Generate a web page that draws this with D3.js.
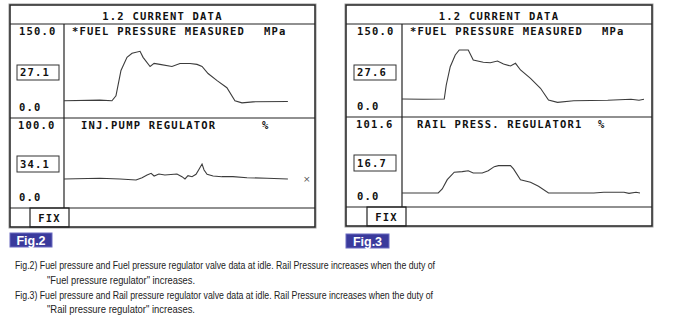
<!DOCTYPE html>
<html>
<head>
<meta charset="utf-8">
<script src="https://cdn.jsdelivr.net/npm/d3@7"></script>
<style>
  html, body { margin: 0; padding: 0; background: #fff; }
  svg { display: block; }
  .mono { font-family: "DejaVu Sans Mono", "Liberation Mono", monospace; font-weight: bold; font-size: 10.5px; letter-spacing: 1.2px; fill: #111; }
  .cap { font-family: "Liberation Sans", Arial, sans-serif; font-size: 11.5px; fill: #222; }
</style>
</head>
<body>
<svg id="chart" width="699" height="322"></svg>
<script>
// ---------------- DATA ----------------
// time axis is in sample units (0..100 across the plot window)
const fig2PressureTime  = [0, 14.3, 19.1, 20.7, 22.7, 25.1, 27.1, 30.3, 31.5, 34.3, 35.9, 38.2, 43.0, 46.2, 50.2, 53.0, 55.0, 57.4, 61.0, 64.9, 68.1, 70.9, 75.3, 89.2];
const fig2PressureValue = [26.7, 27.8, 26.7, 35, 76.7, 98.3, 105, 108.3, 98.3, 83.3, 88.3, 86.7, 83.3, 88.3, 88.3, 86.7, 83.3, 71.7, 60, 48.3, 26.7, 23.3, 25, 25.5];

const fig2RegTime  = [0, 14.3, 22.3, 28.7, 31.1, 33.1, 34.7, 35.9, 37.8, 40.2, 45.0, 47.0, 48.2, 49.4, 51.0, 52.6, 53.8, 55.0, 55.8, 57.0, 59.4, 62.9, 67.3, 72.9, 80.9, 89.2];
const fig2RegValue = [31.4, 32.2, 31.4, 30.2, 32.9, 36.0, 38.0, 34.9, 37.2, 36.0, 37.2, 34.1, 31.4, 35.2, 34.1, 36.9, 42.7, 48.8, 41.9, 36.9, 34.9, 34.1, 34.1, 32.9, 32.2, 31.4];

const fig3PressureTime  = [0, 8.4, 16.9, 17.7, 19.3, 21.3, 22.9, 26.5, 28.5, 32.5, 35.3, 38.2, 40.6, 43.4, 45.4, 47.4, 51.4, 55.4, 58.6, 62.2, 68.7, 82.3, 91.6, 94.8, 96.8];
const fig3PressureValue = [28.3, 27.8, 28.3, 51.7, 82.2, 101.7, 110, 110, 93.3, 89.5, 88.8, 91.7, 86.7, 83.3, 87.8, 76.7, 62.8, 46.2, 26.7, 22.8, 25.5, 26.2, 27.8, 26.2, 27.8];

const fig3RegTime  = [0, 14.5, 16.1, 18.1, 20.9, 24.1, 26.5, 28.5, 32.1, 34.5, 36.9, 38.6, 43.4, 44.6, 47.4, 51.4, 54.6, 58.6, 68.7, 76.7, 80.7, 88.8, 90.8, 93.6, 95.2];
const fig3RegValue = [14.2, 14.2, 18.9, 29.9, 38.7, 39.4, 40.5, 37.8, 37.8, 40.5, 45.3, 46.5, 46.5, 42.6, 29.9, 26.8, 22.1, 14.2, 14.2, 14.2, 15.0, 15.0, 13.8, 15.0, 14.2];

const screenTitle = "1.2 CURRENT DATA";
const fig2Labels = { p1Name: "*FUEL PRESSURE MEASURED", p1Unit: "MPa", p1Max: "150.0", p1Min: "0.0", p1Cur: "27.1",
                     p2Name: "INJ.PUMP REGULATOR", p2Unit: "%", p2Max: "100.0", p2Min: "0.0", p2Cur: "34.1", tag: "Fig.2" };
const fig3Labels = { p1Name: "*FUEL PRESSURE MEASURED", p1Unit: "MPa", p1Max: "150.0", p1Min: "0.0", p1Cur: "27.6",
                     p2Name: "RAIL PRESS. REGULATOR1", p2Unit: "%", p2Max: "101.6", p2Min: "0.0", p2Cur: "16.7", tag: "Fig.3" };
const fig2Max1 = 150, fig2Max2 = 100, fig3Max1 = 150, fig3Max2 = 101.6;

const captionLines = [
  "Fig.2) Fuel pressure and Fuel pressure regulator valve data at idle. Rail Pressure increases when the duty of",
  "\"Fuel pressure regulator\" increases.",
  "Fig.3) Fuel pressure and Rail pressure regulator valve data at idle. Rail Pressure increases when the duty of",
  "\"Rail pressure regulator\" increases."
];

// ---------------- DRAW ----------------
const svg = d3.select("#chart");
svg.append("rect").attr("width", 699).attr("height", 322).attr("fill", "#fff");

function drawFigure(L, lab, s1, s2, max1, max2) {
  const g = svg.append("g");
  const line = (x, y) => d3.line().x(d => x(d[0])).y(d => y(d[1]));

  const sep = [
    [L.left, L.titleB, L.right, L.titleB],
    [L.left, L.p1B, L.right, L.p1B],
    [L.left, L.p2B, L.right, L.p2B],
    [L.div, L.titleB, L.div, L.p2B]
  ];
  g.selectAll("line.sep").data(sep).enter().append("line")
    .attr("x1", d => d[0]).attr("y1", d => d[1]).attr("x2", d => d[2]).attr("y2", d => d[3])
    .attr("stroke", "#222").attr("stroke-width", 1.2);

  g.append("rect").attr("x", L.left - 1).attr("y", L.top - 1).attr("width", L.right - L.left + 2).attr("height", L.bottom - L.top + 2)
    .attr("fill", "none").attr("stroke", "#9a9a9a").attr("stroke-width", 1);
  g.append("rect").attr("x", L.left).attr("y", L.top).attr("width", L.right - L.left).attr("height", L.bottom - L.top)
    .attr("fill", "none").attr("stroke", "#222").attr("stroke-width", 1.5);

  g.append("text").attr("class", "mono").attr("x", (L.left + L.right) / 2).attr("y", L.top + 14.5)
    .attr("text-anchor", "middle").text(screenTitle);

  const x = d3.scaleLinear().domain([0, 100]).range([L.div, L.right]);
  const y1 = d3.scaleLinear().domain([0, max1]).range([L.p1B - 1, L.titleB + 2]);
  const y2 = d3.scaleLinear().domain([0, max2]).range([L.p2B - 2, L.p1B + 2]);

  g.append("text").attr("class", "mono").attr("x", L.lblX).attr("y", L.titleB + 11).text(lab.p1Max);
  g.append("text").attr("class", "mono").attr("x", L.lblX).attr("y", L.p1B - 7.5).text(lab.p1Min);
  g.append("text").attr("class", "mono").attr("x", L.div + 8).attr("y", L.titleB + 11).text(lab.p1Name);
  g.append("text").attr("class", "mono").attr("x", L.div + 200).attr("y", L.titleB + 11).text(lab.p1Unit);
  g.append("rect").attr("x", L.boxX).attr("y", L.titleB + 41).attr("width", 42).attr("height", 15)
    .attr("fill", "#fff").attr("stroke", "#333").attr("stroke-width", 1);
  g.append("text").attr("class", "mono").attr("x", L.boxX + 3).attr("y", L.titleB + 52).text(lab.p1Cur);

  g.append("text").attr("class", "mono").attr("x", L.lblX - 1).attr("y", L.p1B + 11).text(lab.p2Max);
  g.append("text").attr("class", "mono").attr("x", L.lblX).attr("y", L.p2B - 7.5).text(lab.p2Min);
  g.append("text").attr("class", "mono").attr("x", L.p2NameX).attr("y", L.p1B + 11).text(lab.p2Name);
  g.append("text").attr("class", "mono").attr("x", L.p2UnitX).attr("y", L.p1B + 11).attr("font-size", 12).text(lab.p2Unit);
  g.append("rect").attr("x", L.boxX).attr("y", L.p1B + 38).attr("width", 42).attr("height", 16)
    .attr("fill", "#fff").attr("stroke", "#333").attr("stroke-width", 1);
  g.append("text").attr("class", "mono").attr("x", L.boxX + 3).attr("y", L.p1B + 50).text(lab.p2Cur);

  g.append("path").datum(s1).attr("d", line(x, y1)).attr("fill", "none").attr("stroke", "#3c3c3c").attr("stroke-width", 1.1);
  g.append("path").datum(s2).attr("d", line(x, y2)).attr("fill", "none").attr("stroke", "#3c3c3c").attr("stroke-width", 1.1);

  if (L.cross) {
    g.append("text").attr("x", L.right - 12).attr("y", y2(s2[s2.length - 1][1]) + 3.5)
      .attr("font-family", "DejaVu Sans, sans-serif").attr("font-size", 9).attr("fill", "#555").text("×");
  }

  g.append("rect").attr("x", L.fixX).attr("y", L.p2B).attr("width", 39).attr("height", L.bottom - L.p2B)
    .attr("fill", "none").attr("stroke", "#222").attr("stroke-width", 1.2);
  g.append("text").attr("class", "mono").attr("x", L.fixX + 19.5).attr("y", L.p2B + 13.5)
    .attr("text-anchor", "middle").text("FIX");

  g.append("rect").attr("x", L.tagX).attr("y", L.tagY).attr("width", L.tagW).attr("height", 14)
    .attr("fill", "#3a3a9c").attr("stroke", "#6b6bc0").attr("stroke-width", 1);
  g.append("text").attr("x", L.tagX + L.tagW / 2).attr("y", L.tagY + 11.5).attr("text-anchor", "middle")
    .attr("font-family", "Liberation Sans, Arial, sans-serif").attr("font-weight", "bold").attr("font-size", 12.5)
    .attr("fill", "#fff").text(lab.tag);
}

const zip = (a, b) => a.map((t, i) => [t, b[i]]);

drawFigure({ left: 10, right: 315, top: 5, bottom: 227, titleB: 24, p1B: 118, p2B: 208, div: 64,
             lblX: 19, boxX: 17, p2NameX: 81, p2UnitX: 262, fixX: 30, tagX: 10, tagY: 233, tagW: 42, cross: true },
           fig2Labels, zip(fig2PressureTime, fig2PressureValue), zip(fig2RegTime, fig2RegValue), fig2Max1, fig2Max2);

drawFigure({ left: 346, right: 652, top: 5, bottom: 226, titleB: 24, p1B: 117, p2B: 207, div: 402,
             lblX: 357, boxX: 354, p2NameX: 417, p2UnitX: 598, fixX: 367, tagX: 346, tagY: 234, tagW: 43, cross: false },
           fig3Labels, zip(fig3PressureTime, fig3PressureValue), zip(fig3RegTime, fig3RegValue), fig3Max1, fig3Max2);

const capPos = [[15, 269, 420], [47, 284, 148], [15, 299, 418], [47, 313, 148]];
svg.selectAll("text.cap").data(captionLines).enter().append("text")
  .attr("class", "cap")
  .attr("x", (d, i) => capPos[i][0]).attr("y", (d, i) => capPos[i][1])
  .attr("textLength", (d, i) => capPos[i][2]).attr("lengthAdjust", "spacingAndGlyphs")
  .text(d => d);
</script>
</body>
</html>
